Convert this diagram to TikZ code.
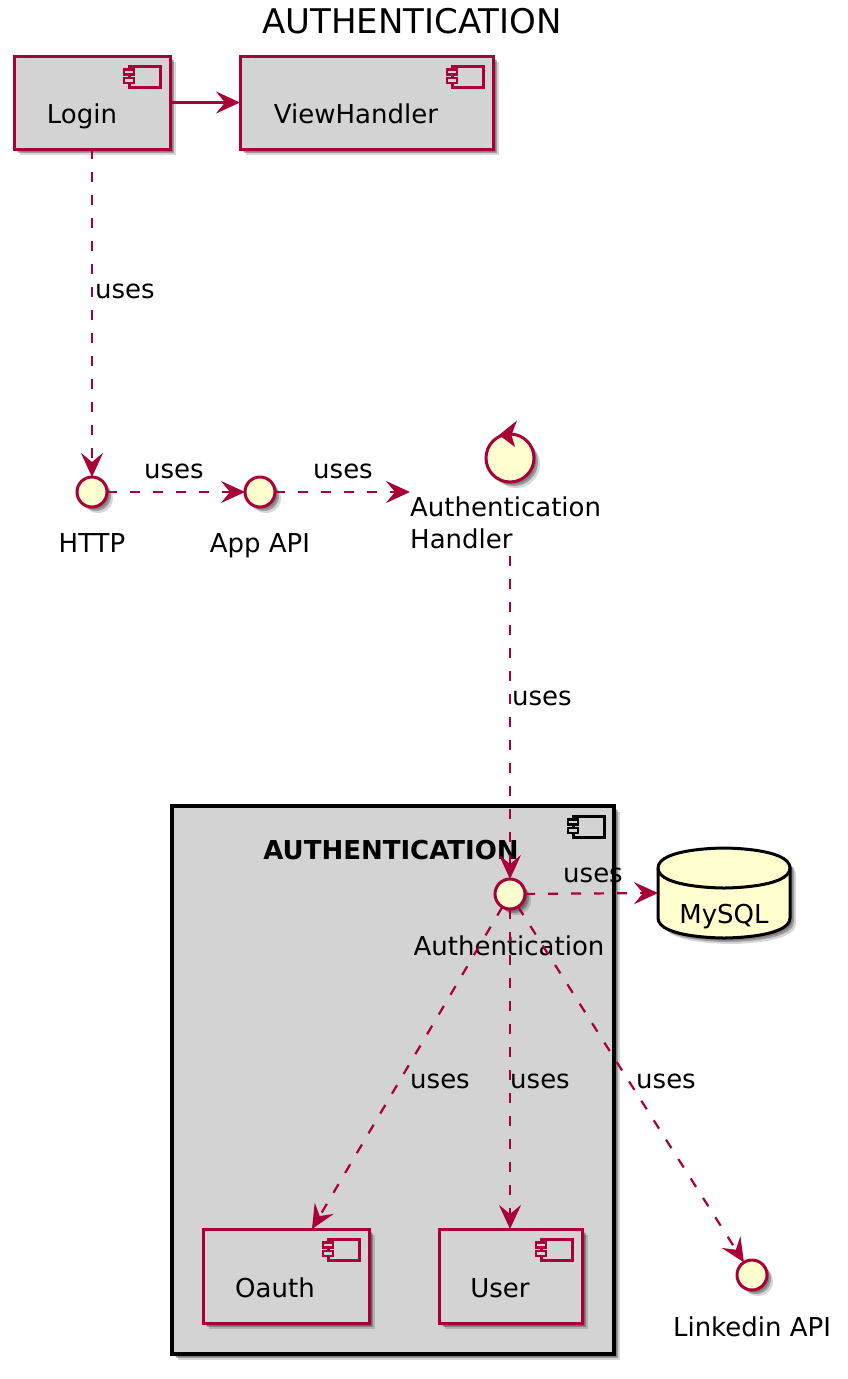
\documentclass[tikz,border=0pt]{standalone}
\usepackage{fontspec}
\setmainfont{DejaVu Sans}
\usetikzlibrary{arrows.meta,shadows,calc}
\definecolor{crim}{HTML}{A80036}
\definecolor{ifill}{HTML}{FEFECE}
\definecolor{cgray}{HTML}{D3D3D3}
\tikzset{
 shd/.style={general shadow={fill=black,opacity=0.18,shadow xshift=2.5pt,shadow yshift=-2.5pt},
             general shadow={fill=black,opacity=0.26,shadow xshift=4pt,shadow yshift=-4pt},
             general shadow={fill=black,opacity=0.16,shadow xshift=6pt,shadow yshift=-6pt}},
 comp/.style={shd, draw=crim, line width=3pt, fill=cgray, rectangle, inner sep=0pt, outer sep=0pt},
 iface/.style={shd, circle, draw=crim, line width=3pt, fill=ifill, minimum size=30pt, inner sep=0pt, outer sep=0pt},
 txt/.style={font=\fontsize{26pt}{32pt}\selectfont, inner sep=0pt, anchor=base},
 conn/.style={draw=crim, line width=2.2pt, -{Stealth[length=24pt,width=22pt,inset=9pt]}},
 dconn/.style={conn, dash pattern=on 10pt off 13pt},
}
\newcommand\compIcon[3]{%
 \draw[#2, fill=#3, line width=3pt] ([shift={(-41,10)}]#1.north east) rectangle ([shift={(-10,31)}]#1.north east);
 \draw[#2, fill=#3, line width=2.2pt] ([shift={(-46,13.5)}]#1.north east) rectangle ([shift={(-36,18.5)}]#1.north east);
 \draw[#2, fill=#3, line width=2.2pt] ([shift={(-46,22)}]#1.north east) rectangle ([shift={(-36,27)}]#1.north east);
}
\newcommand\dbPath{(658,868) .. controls (658,848) and (724,848) .. (724,848) .. controls (724,848) and (790,848) .. (790,868) -- (790,918) .. controls (790,938) and (724,938) .. (724,938) .. controls (724,938) and (658,938) .. (658,918) -- cycle}
\begin{document}
\begin{tikzpicture}[x=1pt,y=-1pt]
\useasboundingbox[fill=white] (0,0) rectangle (848,1379);

% title
\node[txt, font=\fontsize{34pt}{40pt}\selectfont] (title) at (412,33) {AUTHENTICATION};

% package
\node[shd, draw=black, line width=3.5pt, fill=cgray, minimum width=442pt, minimum height=548pt, inner sep=0pt, outer sep=0pt] (pkg) at (393,1080) {};
\compIcon{pkg}{black}{cgray}
\node[txt, font=\bfseries\fontsize{26pt}{30pt}\selectfont] (pkgT) at (391,859) {AUTHENTICATION};

% components
\node[comp, minimum width=156pt, minimum height=93pt] (login) at (92,102.5) {};
\compIcon{login}{crim}{cgray}
\node[txt] (loginT) at (82,123) {Login};
\node[comp, minimum width=253pt, minimum height=93pt] (view) at (366.5,102.5) {};
\compIcon{view}{crim}{cgray}
\node[txt] (viewT) at (356,123) {ViewHandler};
\node[comp, minimum width=166pt, minimum height=94pt] (oauth) at (286,1276) {};
\compIcon{oauth}{crim}{cgray}
\node[txt] (oauthT) at (275,1297) {Oauth};
\node[comp, minimum width=143pt, minimum height=94pt] (user) at (510.5,1276) {};
\compIcon{user}{crim}{cgray}
\node[txt] (userT) at (500,1297) {User};

% interfaces
\node[iface] (http) at (92,492) {};
\node[txt] (httpT) at (92,552) {HTTP};
\node[iface] (appapi) at (260,492) {};
\node[txt] (appapiT) at (260,552) {App API};
\node[iface] (auth) at (510,894) {};
\node[txt] (authT) at (509,955) {Authentication};
\node[iface] (linkedin) at (752,1275) {};
\node[txt] (linkedinT) at (752,1336) {Linkedin API};

% control
\node[iface, minimum size=48pt] (handler) at (510,458) {};
\fill[crim] (499,435) -- (517,420.5) -- (511.5,435) -- (515,447) -- cycle;
\node[txt, anchor=base west] (handlerA) at (410,516) {Authentication};
\node[txt, anchor=base west] (handlerB) at (410,548) {Handler};
\coordinate (hdlin) at (410,492);
\coordinate (hdlout) at (510,556);

% database
\begin{scope}[shift={(6,6)}]
\fill[black, opacity=0.16] \dbPath;
\end{scope}
\begin{scope}[shift={(4,4)}]
\fill[black, opacity=0.26] \dbPath;
\end{scope}
\begin{scope}[shift={(2.5,2.5)}]
\fill[black, opacity=0.18] \dbPath;
\end{scope}
\draw[black, line width=3pt, fill=ifill] \dbPath;
\draw[black, line width=3pt] (658,868) .. controls (658,888) and (724,888) .. (724,888) .. controls (724,888) and (790,888) .. (790,868);
\node[inner sep=0pt, outer sep=0pt, minimum width=132pt, minimum height=90pt] (mysql) at (724,893) {};
\node[txt] (mysqlT) at (724,923) {MySQL};

% connectors
\draw[conn] (login) -- (view);
\draw[dconn] (login.south) -- (http.north);
\node[txt, anchor=base west] (u1) at (95,298) {uses};
\draw[dconn] (http) -- (appapi);
\node[txt] (u2) at (174,478) {uses};
\draw[dconn] (appapi) -- (hdlin);
\node[txt] (u3) at (343,478) {uses};
\draw[dconn] (hdlout) -- (auth.north);
\node[txt, anchor=base west] (u4) at (512,705) {uses};
\draw[dconn] (auth) -- (mysql.west);
\node[txt] (u5) at (593,882) {uses};
\draw[dconn] (auth) -- ([xshift=26pt]oauth.north);
\node[txt] (u6) at (440,1088) {uses};
\draw[dconn] (auth.south) -- (auth.south |- user.north);
\node[txt] (u7) at (540,1088) {uses};
\draw[dconn] (auth) -- (linkedin);
\node[txt] (u8) at (666,1088) {uses};
\end{tikzpicture}
\end{document}
